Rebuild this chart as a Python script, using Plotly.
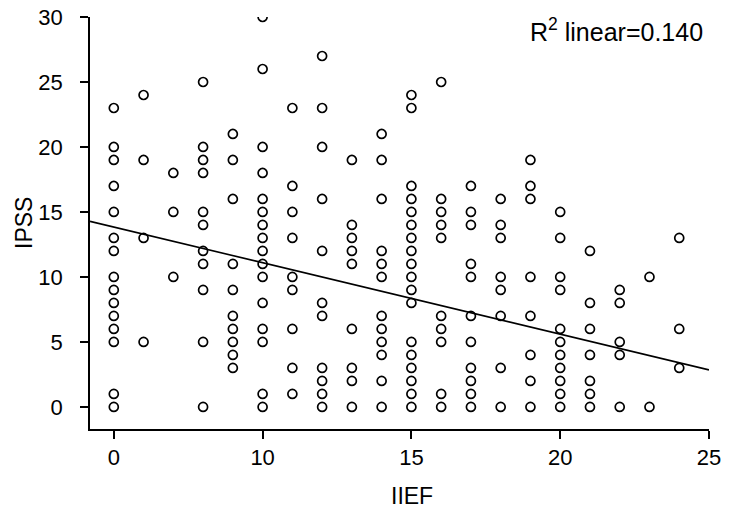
import plotly.graph_objects as go

# IIEF columns as they sit on the axis, and the IPSS values stacked in each
iief = [5, 6, 7, 8, 9, 10, 11, 12, 13, 14, 15, 16, 17, 18, 19, 20, 21, 22, 23, 24]
ipss = [
    [23, 20, 19, 17, 15, 13, 12, 10, 9, 8, 7, 6, 5, 1, 0],
    [24, 19, 13, 5],
    [18, 15, 10],
    [25, 20, 19, 18, 15, 14, 12, 11, 9, 5, 0],
    [21, 19, 16, 11, 9, 7, 6, 5, 4, 3],
    [30, 26, 20, 18, 16, 15, 14, 13, 12, 11, 10, 8, 6, 5, 1, 0],
    [23, 17, 15, 13, 10, 9, 6, 3, 1],
    [27, 23, 20, 16, 12, 8, 7, 3, 2, 1, 0],
    [19, 14, 13, 12, 11, 6, 3, 2, 0],
    [21, 19, 16, 12, 11, 10, 7, 6, 5, 4, 2, 0],
    [24, 23, 17, 16, 15, 14, 13, 12, 11, 10, 9, 8, 5, 4, 3, 2, 1, 0],
    [25, 16, 15, 14, 13, 7, 6, 5, 1, 0],
    [17, 15, 14, 11, 10, 7, 5, 3, 2, 1, 0],
    [16, 14, 13, 10, 9, 7, 3, 0],
    [19, 17, 16, 10, 7, 4, 2, 0],
    [15, 13, 10, 9, 6, 5, 4, 3, 2, 1, 0],
    [12, 8, 6, 4, 2, 1, 0],
    [9, 8, 5, 4, 0],
    [10, 0],
    [13, 6, 3],
]

# fitted line end points
fit_x = [4.2, 25]
fit_y = [14.28, 2.85]

x_tickvals = [5, 10, 15, 20, 25]
x_ticktext = ["0", "10", "15", "20", "25"]
y_tickvals = [0, 5, 10, 15, 20, 25, 30]

xs, ys = [], []
for xv, col in zip(iief, ipss):
    for v in col:
        xs.append(xv)
        ys.append(v)

font = "Arial, Liberation Sans, sans-serif"

fig = go.Figure()
fig.add_trace(go.Scatter(x=xs, y=ys, mode="markers",
                         marker=dict(symbol="circle-open", size=9, color="black",
                                     line=dict(width=1.7, color="black"))))
fig.add_trace(go.Scatter(x=fit_x, y=fit_y, mode="lines",
                         line=dict(color="black", width=1.6)))

fig.update_layout(
    width=751, height=518,
    margin=dict(l=90, r=42, t=17, b=89),
    plot_bgcolor="white", paper_bgcolor="white",
    showlegend=False,
    font=dict(family=font, size=22, color="black"),
    xaxis=dict(range=[4.2, 25], tickvals=x_tickvals, ticktext=x_ticktext,
               automargin=False, ticklabeloverflow="allow",
               showgrid=False, zeroline=False, showline=True, linecolor="black",
               linewidth=1.6, ticks="outside", ticklen=8, tickwidth=1.6,
               tickcolor="black"),
    yaxis=dict(range=[-1.7, 30], tickvals=y_tickvals, automargin=False,
               ticklabelstandoff=13, ticklabeloverflow="allow",
               showgrid=False, zeroline=False, showline=True, linecolor="black",
               linewidth=1.6, ticks="outside", ticklen=8, tickwidth=1.6,
               tickcolor="black"),
    annotations=[
        dict(text="R<sup>2</sup> linear=0.140", xref="paper", yref="paper",
             x=0.994, y=0.968, xanchor="right", yanchor="middle",
             showarrow=False, font=dict(size=25)),
        dict(text="IIEF", xref="paper", yref="paper", x=(412 - 90) / 619,
             y=-(496 - 429) / 412, xanchor="center", yanchor="middle",
             showarrow=False, font=dict(size=23)),
        dict(text="IPSS", xref="paper", yref="paper", x=-(90 - 24) / 619,
             y=1 - (223 - 17) / 412, xanchor="center", yanchor="middle",
             textangle=-90, showarrow=False, font=dict(size=23)),
    ],
)

# drop the default body margin so the figure sits at the page corner
fig.write_html("out.html", config={"displayModeBar": False},
               post_script="document.body.style.margin = '0';")
